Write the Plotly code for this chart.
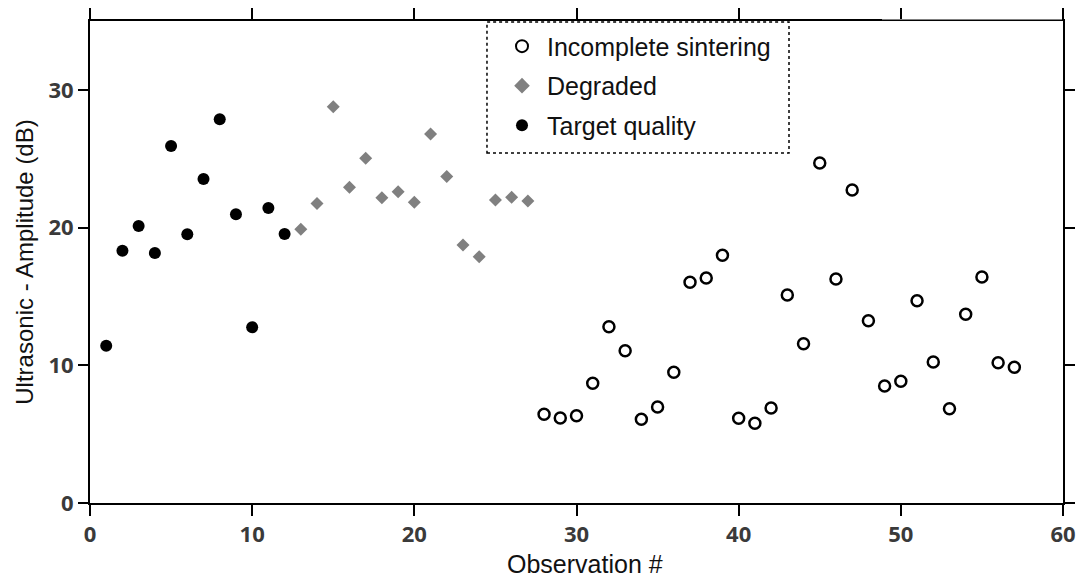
import plotly.graph_objects as go

# Data
target_x = [1, 2, 3, 4, 5, 6, 7, 8, 9, 10, 11, 12]
target_y = [11.42, 18.32, 20.12, 18.16, 25.93, 19.51, 23.53, 27.86, 20.96, 12.76, 21.42, 19.54]

degraded_x = [13, 14, 15, 16, 17, 18, 19, 20, 21, 22, 23, 24, 25, 26, 27]
degraded_y = [19.87, 21.74, 28.78, 22.92, 25.03, 22.17, 22.61, 21.84, 26.80, 23.70, 18.74, 17.89, 22.0, 22.2, 21.93]

incomplete_x = list(range(28, 58))
incomplete_y = [6.44, 6.17, 6.34, 8.69, 12.80, 11.06, 6.08, 6.97, 9.49, 16.03,
                16.34, 17.99, 6.15, 5.79, 6.90, 15.11, 11.57, 24.69, 16.27, 22.73,
                13.24, 8.50, 8.84, 14.69, 10.24, 6.85, 13.70, 16.41, 10.19, 9.85]

x_ticks = [0, 10, 20, 30, 40, 50, 60]
y_ticks = [0, 10, 20, 30]

fig = go.Figure()
fig.add_trace(go.Scatter(
    x=incomplete_x, y=incomplete_y, mode="markers", name="Incomplete sintering",
    legendgroup="a",
    marker=dict(symbol="circle-open", size=11, color="black", line=dict(width=2.5, color="black")),
))
fig.add_trace(go.Scatter(
    x=degraded_x, y=degraded_y, mode="markers", name="Degraded",
    legendgroup="b",
    marker=dict(symbol="diamond", size=10, color="#808080", line=dict(width=0)),
))
fig.add_trace(go.Scatter(
    x=target_x, y=target_y, mode="markers", name="Target quality",
    legendgroup="c",
    marker=dict(symbol="circle", size=12, color="black", line=dict(width=0)),
))

tick_font = dict(family="Open Sans", size=22, color="#3a3a3a", weight="bold")

fig.update_layout(
    width=1079, height=579,
    margin=dict(l=90, r=16, t=21, b=76),
    paper_bgcolor="white", plot_bgcolor="white",
    showlegend=True,
    legend=dict(
        x=0.4183, y=0.995, xanchor="left", yanchor="top",
        bgcolor="rgba(0,0,0,0)", borderwidth=0,
        font=dict(family="Liberation Sans", size=25, color="#111111"),
        tracegroupgap=4, itemsizing="constant", itemwidth=40,
    ),
    xaxis=dict(
        range=[0, 60], tickvals=x_ticks, ticktext=[str(v) for v in x_ticks],
        showgrid=False, zeroline=False, showline=True, linecolor="black", linewidth=2,
        mirror="ticks", ticks="outside", ticklen=11, tickwidth=2, tickcolor="black",
        tickfont=tick_font, automargin=False,
    ),
    yaxis=dict(
        range=[0, 35], tickvals=y_ticks, ticktext=[str(v) for v in y_ticks],
        showgrid=False, zeroline=False, showline=True, linecolor="black", linewidth=2,
        mirror="ticks", ticks="outside", ticklen=10, tickwidth=2, tickcolor="black",
        tickfont=tick_font, automargin=False,
        title=dict(text="Ultrasonic - Amplitude (dB)", font=dict(family="Liberation Sans", size=24, color="#111111"), standoff=8),
    ),
    annotations=[
        dict(text="Observation #", xref="paper", yref="paper", x=0.509, y=-0.1598,
             xanchor="center", yanchor="bottom", showarrow=False,
             font=dict(family="Liberation Sans", size=25, color="#111111")),
    ],
    shapes=[
        # dotted legend frame
        dict(type="rect", xref="paper", yref="paper", x0=0.408, x1=0.7184, y0=0.726, y1=0.998,
             line=dict(color="black", width=1.5, dash="dot"), fillcolor="rgba(0,0,0,0)", layer="above"),
        # thinner segment of top frame at the right end
        dict(type="line", xref="x", yref="paper", x0=48.84, x1=59.94, y0=1, y1=1,
             line=dict(color="white", width=3), layer="above"),
        dict(type="line", xref="x", yref="paper", x0=48.84, x1=60, y0=1.001, y1=1.001,
             line=dict(color="black", width=1), layer="above"),
    ],
)

fig.write_html("out.html")
